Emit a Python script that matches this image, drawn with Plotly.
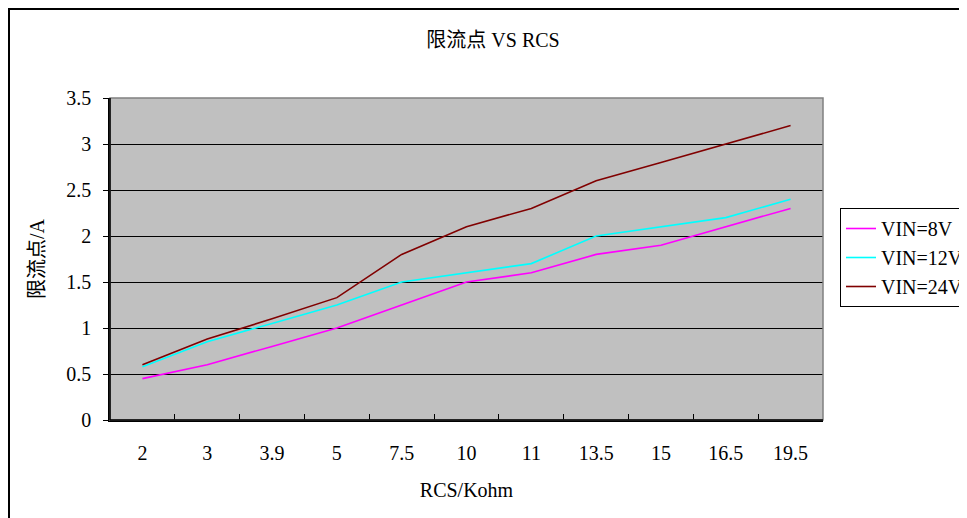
import plotly.graph_objects as go

categories = ["2", "3", "3.9", "5", "7.5", "10", "11", "13.5", "15", "16.5", "19.5"]
vin8 = [0.45, 0.6, 0.8, 1.0, 1.25, 1.5, 1.6, 1.8, 1.9, 2.1, 2.3]
vin12 = [0.58, 0.85, 1.05, 1.25, 1.5, 1.6, 1.7, 2.0, 2.1, 2.2, 2.4]
vin24 = [0.6, 0.88, 1.1, 1.33, 1.8, 2.1, 2.3, 2.6, 2.8, 3.0, 3.2]
series_names = ["VIN=8V", "VIN=12V", "VIN=24V"]
series_colors = ["#FF00FF", "#00FFFF", "#800000"]

FONT = "Liberation Serif, Noto Sans CJK SC, serif"

fig = go.Figure()
for name, vals, col in zip(series_names, [vin8, vin12, vin24], series_colors):
    fig.add_trace(go.Scatter(x=categories, y=vals, mode="lines", name=name,
                             line=dict(color=col, width=1.6)))

# page has an 8px body margin, so the figure is 8px smaller and shifted
W, H = 959, 510
L, T = 102, 90
R = W - 815
B = H - 412
pw = W - L - R
ph = H - T - B

fig.update_layout(
    width=W, height=H,
    margin=dict(l=L, r=R, t=T, b=B, autoexpand=False),
    paper_bgcolor="white",
    plot_bgcolor="#C0C0C0",
    font=dict(family=FONT, size=20, color="black"),
    title=dict(text="限流点 VS RCS", x=485 / W, xanchor="center",
               y=1 - 32 / H, yanchor="middle", font=dict(size=20)),
    showlegend=True,
    legend=dict(x=(832 - L) / pw, xanchor="left", y=(412 - 200) / ph,
                yanchor="top", bordercolor="black", borderwidth=1, bgcolor="white",
                font=dict(size=20), tracegroupgap=0, itemwidth=30),
    xaxis=dict(type="category", range=[-0.5, len(categories) - 0.5],
               showgrid=False, showline=True, linecolor="black",
               linewidth=1.5, ticks="inside", ticklen=6, tickcolor="black",
               tickson="boundaries", tickfont=dict(size=20), ticklabelstandoff=14,
               title=dict(text="RCS/Kohm", font=dict(size=20), standoff=20),
               zeroline=False, mirror=False),
    yaxis=dict(range=[0, 3.5], dtick=0.5, showgrid=True, gridcolor="black",
               gridwidth=1, showline=True, linecolor="black", linewidth=1.5,
               ticks="outside", ticklen=5, tickcolor="black", zeroline=False,
               tickfont=dict(size=20), ticklabelstandoff=8,
               title=dict(text="限流点/A", font=dict(size=20), standoff=16)),
    shapes=[
        dict(type="rect", xref="paper", yref="paper", x0=0, x1=1, y0=0, y1=1,
             line=dict(color="#808080", width=1.5), layer="above"),
        dict(type="line", xref="paper", yref="paper", x0=0, x1=0, y0=0, y1=1,
             line=dict(color="black", width=1.5), layer="above"),
        dict(type="line", xref="paper", yref="paper", x0=0, x1=1, y0=0, y1=0,
             line=dict(color="black", width=1.5), layer="above"),
        dict(type="rect", xref="paper", yref="paper",
             x0=(1 - L) / pw, x1=(W + 20 - L) / pw,
             y0=-(B + 20) / ph, y1=1 + (T - 1) / ph,
             line=dict(color="black", width=2), layer="below"),
    ],
)

fig.write_html("out.html")
